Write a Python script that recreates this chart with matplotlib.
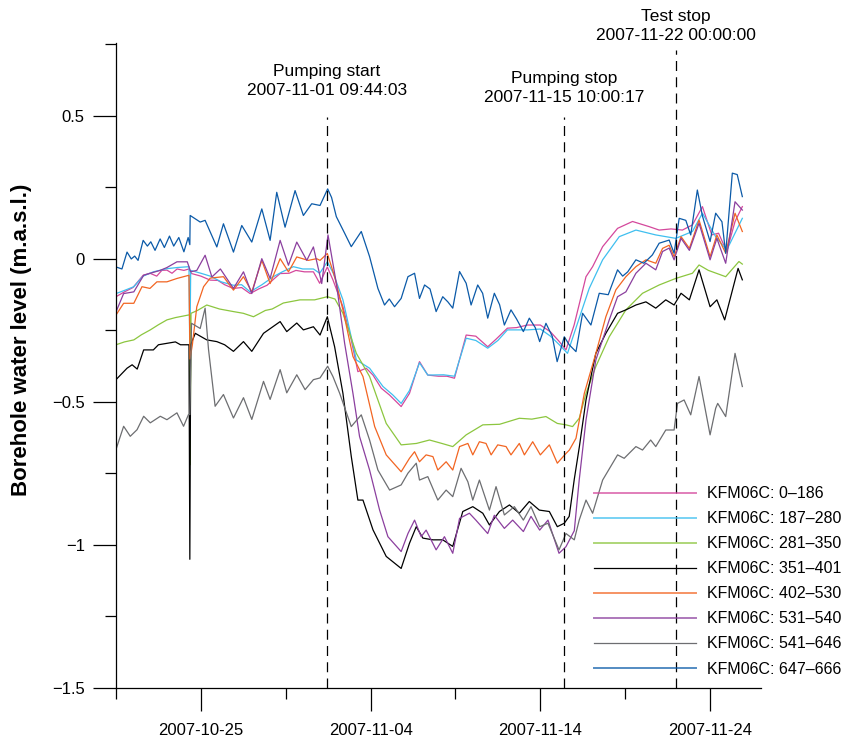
import numpy as np
import pandas as pd
import matplotlib
matplotlib.use("Agg")
import matplotlib.pyplot as plt
import matplotlib.dates as mdates
from matplotlib.lines import Line2D

plt.rcParams['font.family'] = ['Liberation Sans', 'DejaVu Sans']

# start of record; times below are days after this
t0 = pd.Timestamp('2007-10-20')

events = ['2007-11-01 09:44:03', '2007-11-15 10:00:17', '2007-11-22 00:00:00']
event_names = ['Pumping start', 'Pumping stop', 'Test stop']

labels = ['KFM06C: 0\u2013186', 'KFM06C: 187\u2013280', 'KFM06C: 281\u2013350',
          'KFM06C: 351\u2013401', 'KFM06C: 402\u2013530', 'KFM06C: 531\u2013540',
          'KFM06C: 541\u2013646', 'KFM06C: 647\u2013666']
colors = ['#d4489c', '#3fbfef', '#8cc63f', '#000000',
          '#f26522', '#8b3f9e', '#6d6e71', '#0b5aa8']

# KFM06C: 0-186
d_186 = [0, 0.5, 1.0, 1.6, 2.0, 2.4, 2.7, 3.0, 3.3, 3.6, 4.0, 4.3, 4.45, 5.0, 5.55, 6.0, 6.4, 6.9,
         7.4, 7.9, 8.4, 8.9, 9.3, 9.67, 10.2, 10.6, 11.1, 11.63, 12.0, 12.45, 12.78, 13.37, 13.86,
         14.25, 14.74, 15.14, 15.63, 16.12, 16.8, 17.29, 17.88, 18.37, 19.0, 19.5, 19.94, 20.63,
         21.2, 21.9, 22.4, 23.06, 23.6, 24.24, 25.0, 25.6, 26.12, 26.51, 26.99, 27.69, 28.08,
         28.67, 29.55, 30.43, 31.41, 32.0, 32.7, 33.37, 33.96, 34.55, 35.1, 35.5, 35.98, 36.47, 36.9]
v_186 = [-0.132, -0.115, -0.10, -0.057, -0.05, -0.06, -0.04, -0.039, -0.05, -0.035, -0.04, -0.035,
         -0.051, -0.06, -0.074, -0.075, -0.09, -0.103, -0.10, -0.121, -0.105, -0.092, -0.07, -0.051,
         -0.05, -0.04, -0.045, -0.045, -0.085, -0.028, -0.073, -0.167, -0.283, -0.394, -0.382,
         -0.406, -0.452, -0.476, -0.516, -0.470, -0.359, -0.406, -0.41, -0.41, -0.417, -0.266,
         -0.27, -0.307, -0.28, -0.242, -0.24, -0.231, -0.231, -0.255, -0.289, -0.318, -0.231,
         -0.062, -0.027, 0.043, 0.107, 0.131, 0.113, 0.101, 0.105, 0.101, 0.119, 0.183, 0.084,
         0.09, 0.026, 0.131, 0.183]

# KFM06C: 187-280
d_280 = [0, 0.5, 1.05, 1.6, 2.2, 3.0, 3.6, 4.3, 4.35, 4.4, 5.0, 5.55, 6.2, 6.92, 7.4, 7.9, 8.6,
         9.27, 9.8, 10.45, 11.0, 11.63, 12.0, 12.45, 12.8, 13.37, 14.16, 14.94, 15.73, 16.3, 16.8,
         17.29, 17.88, 18.37, 19.3, 19.94, 20.63, 21.2, 21.9, 22.5, 23.06, 24.24, 25.0, 25.6,
         26.12, 26.6, 27.29, 27.88, 28.67, 29.65, 30.63, 31.8, 32.98, 33.96, 34.55, 35.33, 35.98, 36.9]
v_280 = [-0.121, -0.11, -0.097, -0.06, -0.045, -0.034, -0.03, -0.027, -0.35, -0.04, -0.05, -0.06,
         -0.08, -0.092, -0.09, -0.115, -0.09, -0.062, -0.045, -0.027, -0.035, -0.035, -0.05, -0.01,
         -0.05, -0.143, -0.353, -0.382, -0.446, -0.475, -0.505, -0.46, -0.363, -0.406, -0.405,
         -0.41, -0.277, -0.285, -0.312, -0.285, -0.248, -0.248, -0.245, -0.27, -0.3, -0.33,
         -0.207, -0.103, -0.003, 0.078, 0.101, 0.084, 0.072, 0.096, 0.16, 0.078, 0.031, 0.142]

# KFM06C: 281-350
d_350 = [0, 0.5, 1.05, 1.5, 2.02, 2.5, 3.0, 3.5, 4.27, 4.35, 4.36, 4.42, 4.8, 5.35, 6.1, 6.92, 7.5,
         8.1, 8.8, 9.2, 9.86, 10.84, 11.7, 12.45, 12.9, 13.37, 14.16, 14.94, 15.92, 16.8, 17.7,
         18.47, 19.2, 19.84, 20.63, 21.61, 22.6, 23.76, 24.5, 25.33, 26.0, 26.51, 26.9, 27.29,
         27.69, 28.27, 29.06, 30.04, 31.02, 32.0, 32.98, 33.96, 34.35, 34.9, 35.92, 36.7, 36.9]
v_350 = [-0.30, -0.29, -0.283, -0.265, -0.248, -0.23, -0.213, -0.205, -0.196, -0.196, -0.72, -0.19,
         -0.18, -0.161, -0.175, -0.184, -0.19, -0.202, -0.18, -0.175, -0.154, -0.143, -0.143,
         -0.132, -0.14, -0.19, -0.33, -0.411, -0.575, -0.650, -0.645, -0.633, -0.645, -0.656,
         -0.615, -0.58, -0.578, -0.557, -0.56, -0.551, -0.575, -0.58, -0.586, -0.557, -0.47,
         -0.376, -0.272, -0.178, -0.12, -0.091, -0.068, -0.05, -0.021, -0.04, -0.062, -0.009, -0.018]

# KFM06C: 351-401
d_401 = [0, 0.65, 0.95, 1.25, 1.63, 2.2, 2.5, 3.0, 3.5, 3.8, 4.3, 4.35, 4.4, 4.67, 5.35, 5.94, 6.4,
         6.92, 7.51, 8.0, 8.69, 9.67, 10.06, 10.65, 11.04, 11.63, 12.02, 12.45, 12.88, 13.37,
         13.86, 14.25, 14.55, 15.14, 15.92, 16.8, 17.29, 17.69, 18.08, 18.67, 19.25, 19.84, 20.43,
         21.02, 21.61, 22.0, 22.59, 23.18, 23.76, 24.35, 24.94, 25.53, 26.0, 26.41, 26.7, 27.0,
         27.3, 27.69, 28.27, 28.86, 29.55, 30.04, 30.63, 31.22, 31.8, 32.39, 32.88, 33.29, 33.78,
         34.35, 35.0, 35.4, 35.86, 36.65, 36.9]
v_401 = [-0.422, -0.382, -0.37, -0.385, -0.318, -0.318, -0.30, -0.295, -0.29, -0.30, -0.30, -1.05,
         -0.3, -0.26, -0.283, -0.289, -0.30, -0.323, -0.289, -0.323, -0.26, -0.219, -0.254,
         -0.224, -0.248, -0.237, -0.266, -0.202, -0.307, -0.47, -0.69, -0.843, -0.843, -0.947,
         -1.04, -1.082, -0.994, -0.936, -0.976, -0.982, -0.982, -1.005, -0.883, -0.866, -0.889,
         -0.93, -0.883, -0.86, -0.889, -0.848, -0.878, -0.883, -0.936, -0.924, -0.90, -0.77,
         -0.656, -0.493, -0.33, -0.26, -0.19, -0.178, -0.161, -0.15, -0.172, -0.143, -0.161,
         -0.12, -0.143, -0.038, -0.167, -0.143, -0.213, -0.033, -0.073]

# KFM06C: 402-530
d_530 = [0, 0.45, 1.05, 1.53, 2.0, 2.41, 3.0, 3.6, 4.3, 4.36, 4.5, 4.76, 5.16, 5.55, 6.33, 6.92,
         7.51, 8.0, 8.59, 9.08, 9.67, 10.16, 10.65, 11.33, 11.82, 12.02, 12.45, 12.88, 13.37,
         13.96, 14.55, 15.24, 15.92, 16.8, 17.29, 17.59, 17.88, 18.27, 18.67, 18.96, 19.45, 19.84,
         20.24, 20.73, 21.02, 21.41, 21.8, 22.1, 22.49, 22.98, 23.27, 23.76, 24.06, 24.55, 25.0,
         25.53, 26.0, 26.51, 26.71, 27.1, 27.59, 28.27, 28.86, 29.45, 30.04, 30.63, 31.22, 31.8,
         32.2, 32.59, 32.88, 33.29, 33.78, 34.35, 35.0, 35.4, 35.92, 36.47, 36.9]
v_530 = [-0.196, -0.155, -0.155, -0.097, -0.103, -0.08, -0.08, -0.068, -0.057, -0.35, -0.30,
         -0.167, -0.097, -0.067, -0.062, -0.109, -0.062, -0.115, -0.005, -0.086, 0.001, -0.045,
         0.007, -0.005, 0.001, -0.005, 0.019, -0.062, -0.178, -0.341, -0.411, -0.586, -0.685,
         -0.744, -0.697, -0.674, -0.709, -0.685, -0.691, -0.738, -0.709, -0.738, -0.656, -0.645,
         -0.685, -0.639, -0.645, -0.685, -0.65, -0.656, -0.685, -0.645, -0.685, -0.639, -0.685,
         -0.65, -0.714, -0.68, -0.668, -0.627, -0.47, -0.33, -0.202, -0.108, -0.062, -0.027,
         -0.003, -0.015, 0.037, 0.048, 0.008, 0.078, 0.037, 0.136, 0.008, 0.084, 0.02, 0.16, 0.096]

# KFM06C: 531-540
d_540 = [0, 0.45, 1.05, 1.63, 2.02, 2.6, 3.0, 3.59, 4.2, 4.4, 4.76, 5.25, 5.65, 6.15, 6.92, 7.51,
         8.0, 8.59, 9.08, 9.67, 10.16, 10.65, 11.24, 11.63, 12.12, 12.49, 12.98, 13.47, 13.96,
         14.35, 14.94, 15.53, 16.02, 16.8, 17.2, 17.59, 17.98, 18.27, 18.86, 19.35, 19.84, 20.24,
         20.82, 21.2, 21.9, 22.29, 22.88, 23.37, 24.0, 24.45, 24.96, 25.45, 26.1, 26.51, 27.0,
         27.29, 27.69, 28.27, 29.06, 29.55, 30.04, 30.63, 31.22, 31.8, 32.2, 32.59, 32.88, 33.29,
         33.78, 34.35, 35.0, 35.4, 35.92, 36.47, 36.9]
v_540 = [-0.185, -0.121, -0.115, -0.057, -0.05, -0.04, -0.03, -0.01, -0.01, -0.045, -0.04, 0.013,
         -0.063, -0.035, -0.103, -0.045, -0.121, 0.001, -0.068, 0.065, -0.022, 0.059, -0.005,
         0.042, -0.086, 0.084, -0.085, -0.295, -0.47, -0.621, -0.738, -0.878, -0.971, -1.023,
         -0.96, -0.913, -0.971, -0.948, -1.017, -0.971, -1.029, -0.907, -0.889, -0.913, -0.96,
         -0.896, -0.942, -0.913, -0.953, -0.9, -0.948, -0.913, -1.029, -1.006, -0.95, -0.773,
         -0.563, -0.353, -0.213, -0.132, -0.115, -0.05, -0.015, -0.038, 0.026, 0.038, -0.003,
         0.072, 0.03, 0.125, -0.003, 0.072, -0.015, 0.20, 0.171]

# KFM06C: 541-646
d_646 = [0, 0.45, 0.84, 1.24, 1.63, 2.02, 2.61, 3.0, 3.59, 3.98, 4.27, 4.35, 4.45, 4.96, 5.25,
         5.45, 5.84, 6.33, 6.92, 7.51, 8.0, 8.69, 9.08, 9.67, 10.06, 10.65, 11.14, 11.63, 12.02,
         12.47, 12.78, 13.18, 13.86, 14.45, 14.94, 15.43, 16.12, 16.8, 17.2, 17.69, 17.88, 18.37,
         18.96, 19.45, 19.84, 20.33, 20.73, 21.02, 21.41, 22.0, 22.39, 22.88, 23.47, 24.0, 24.45,
         24.96, 25.45, 26.1, 26.51, 27.0, 27.29, 27.69, 28.08, 28.67, 29.55, 29.94, 30.24, 30.63,
         31.02, 31.5, 31.8, 32.39, 32.88, 33.08, 33.47, 33.86, 34.35, 35.0, 35.33, 35.45, 35.92,
         36.47, 36.9]
v_646 = [-0.666, -0.585, -0.62, -0.597, -0.55, -0.573, -0.55, -0.562, -0.538, -0.585, -0.544,
         -0.544, -0.225, -0.243, -0.172, -0.316, -0.515, -0.474, -0.556, -0.485, -0.561, -0.428,
         -0.491, -0.387, -0.468, -0.405, -0.457, -0.422, -0.416, -0.375, -0.411, -0.47, -0.586,
         -0.545, -0.633, -0.738, -0.808, -0.79, -0.749, -0.714, -0.773, -0.761, -0.843, -0.808,
         -0.831, -0.732, -0.779, -0.843, -0.773, -0.878, -0.796, -0.895, -0.866, -0.913, -0.866,
         -0.936, -0.924, -1.017, -0.96, -0.982, -0.913, -0.843, -0.889, -0.773, -0.685, -0.697,
         -0.679, -0.656, -0.668, -0.633, -0.656, -0.598, -0.598, -0.505, -0.493, -0.545, -0.411,
         -0.615, -0.522, -0.505, -0.551, -0.33, -0.446]

# KFM06C: 647-666
d_666 = [0, 0.35, 0.65, 0.9, 1.1, 1.3, 1.6, 1.85, 2.05, 2.3, 2.6, 2.85, 3.15, 3.4, 3.7, 4.0, 4.25,
         4.35, 4.37, 4.96, 5.25, 5.94, 6.33, 6.92, 7.41, 8.0, 8.59, 9.08, 9.47, 9.96, 10.55,
         11.04, 11.53, 12.02, 12.47, 12.7, 12.98, 13.47, 13.86, 14.45, 14.94, 15.43, 15.82, 16.1,
         16.41, 16.8, 17.2, 17.59, 17.88, 18.18, 18.5, 18.86, 19.25, 19.55, 19.84, 20.24, 20.63,
         20.92, 21.31, 21.6, 21.9, 22.29, 22.6, 22.88, 23.27, 23.6, 24.0, 24.35, 24.7, 24.96,
         25.33, 25.7, 25.99, 26.41, 26.7, 27.1, 27.49, 27.98, 28.47, 29.0, 29.55, 29.85, 30.15,
         30.63, 31.1, 31.6, 32.0, 32.59, 32.88, 33.18, 33.57, 33.86, 34.25, 34.55, 35.0, 35.33,
         35.7, 35.92, 36.31, 36.6, 36.9]
v_666 = [-0.028, -0.035, 0.024, 0.0, 0.01, -0.005, 0.065, 0.045, 0.06, 0.03, 0.07, 0.04, 0.08,
         0.045, 0.075, 0.025, 0.075, 0.05, 0.152, 0.129, 0.135, 0.042, 0.123, 0.024, 0.117, 0.059,
         0.175, 0.065, 0.233, 0.111, 0.239, 0.152, 0.193, 0.187, 0.245, 0.215, 0.148, 0.09, 0.043,
         0.096, 0.008, -0.103, -0.161, -0.14, -0.167, -0.138, -0.062, -0.05, -0.138, -0.091,
         -0.105, -0.184, -0.132, -0.15, -0.172, -0.044, -0.085, -0.161, -0.091, -0.12, -0.207,
         -0.12, -0.16, -0.231, -0.178, -0.21, -0.254, -0.207, -0.24, -0.289, -0.225, -0.27,
         -0.359, -0.272, -0.30, -0.324, -0.19, -0.231, -0.12, -0.125, -0.038, -0.06, -0.045,
         -0.003, -0.015, 0.014, 0.055, 0.066, 0.02, 0.142, 0.135, 0.084, 0.241, 0.15, 0.061,
         0.16, 0.13, 0.02, 0.30, 0.295, 0.218]

series = [(d_186, v_186), (d_280, v_280), (d_350, v_350), (d_401, v_401),
          (d_530, v_530), (d_540, v_540), (d_646, v_646), (d_666, v_666)]

fig = plt.figure(figsize=(8.58, 7.44), dpi=100)
ax = fig.add_axes([116 / 858, 56 / 744, 645 / 858, 645 / 744])

for (d, v), c in zip(series, colors):
    t = t0 + pd.to_timedelta(d, unit='D')
    ax.plot(t, v, color=c, lw=0.9)

# event markers
ev_ymax = [0.885, 0.885, 0.989]
ev_text_y = [0.941, 0.930, 1.026]
for e, name, ym, ty in zip(events, event_names, ev_ymax, ev_text_y):
    te = pd.Timestamp(e)
    ax.axvline(te, ymin=0, ymax=ym, color='black', lw=0.9, ls=(0, (8, 5)))
    ax.text(te, ty, name + '\n' + e, transform=ax.get_xaxis_transform(),
            ha='center', va='center', fontsize=12.5, linespacing=1.3, clip_on=False)

ax.set_xlim(t0, t0 + pd.Timedelta(days=38))
ax.set_ylim(-1.5, 0.755)

major_days = [pd.Timestamp(s) for s in ['2007-10-25', '2007-11-04', '2007-11-14', '2007-11-24']]
minor_days = [pd.Timestamp(s) for s in ['2007-10-20', '2007-10-30', '2007-11-09', '2007-11-19']]
ax.set_xticks(major_days)
ax.set_xticks(minor_days, minor=True)
ax.xaxis.set_major_formatter(mdates.DateFormatter('%Y-%m-%d'))
ax.set_yticks([-1.5, -1, -0.5, 0, 0.5])
ax.set_yticklabels(['\u22121.5', '\u22121', '\u22120.5', '0', '0.5'])
ax.set_yticks(np.arange(-1.25, 0.76, 0.5), minor=True)

ax.tick_params(which='major', length=16.5, width=0.9, labelsize=12, direction='out')
ax.tick_params(which='minor', length=8, width=0.9, direction='out')
ax.tick_params(axis='x', which='major', pad=9)
ax.tick_params(axis='y', which='major', pad=6)

for s in ['top', 'right']:
    ax.spines[s].set_visible(False)
for s in ['left', 'bottom']:
    ax.spines[s].set_linewidth(0.9)

ax.set_ylabel('Borehole water level (m.a.s.l.)', fontsize=16, fontweight='bold')
ax.yaxis.set_label_coords(-0.13, 0.54)

handles = [Line2D([], [], color=c, lw=1.4 if c not in ('#000000', '#6d6e71') else 0.9,
                  alpha=0.7 if c not in ('#000000', '#6d6e71') else 1.0) for c in colors]
ax.legend(handles, labels, loc='upper left', bbox_to_anchor=(0.741, 0.313), frameon=False,
          fontsize=11.5, handlelength=6.4, handletextpad=0.7, labelspacing=0.63,
          borderpad=0, borderaxespad=0)

fig.savefig('out.png', dpi=100)
